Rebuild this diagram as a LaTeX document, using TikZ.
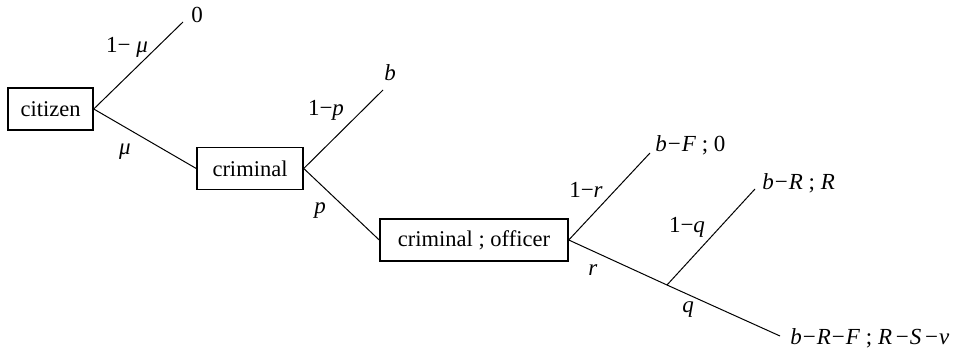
\documentclass[tikz,border=0pt]{standalone}
\usepackage{fontspec}
\setmainfont{Liberation Serif}
\usetikzlibrary{positioning}

\begin{document}
\begin{tikzpicture}[
  x=0.5pt, y=-0.5pt,
  box/.style={draw, line width=0.75pt, minimum height=21pt, inner xsep=0pt,
              font=\fontsize{11.25}{13}\selectfont},
  pay/.style={anchor=west, inner sep=0pt, font=\fontsize{11.5}{13}\selectfont},
  lbl/.style={inner sep=0pt, font=\fontsize{11.5}{13}\selectfont},
  br/.style={line width=0.5pt},
]
\useasboundingbox (0,0) rectangle (971,353);

% Nodos de decision
\node[box, minimum width=42.5pt] (cit) at (50.5,109) {citizen};
\node[box, minimum width=53pt] (crim) at (250,168.5) {criminal};
\node[box, minimum width=94pt] (off) at (474,240) {criminal ; officer};

% Extremos de las ramas
\coordinate (e0) at (183,22);
\coordinate (eb) at (383,90);
\coordinate (eF) at (650,153);
\coordinate (eR) at (755,189);
\coordinate (eRF) at (780,336);
\coordinate (jq) at (667,285);

% Pagos
\node[pay] (p0) at (191,15) {0};
\node[pay] (pb) at (384,73) {\textit{b}};
\node[pay] (pF) at (655,145) {\textit{b}\kern0.5pt−\kern0.5pt\textit{F} ; 0};
\node[pay] (pR) at (762,183) {\textit{b}\kern0.5pt−\kern0.5pt\textit{R} ; \textit{R}};
\node[pay] (pRF) at (790,338) {\textit{b}\kern0.5pt−\kern0.5pt\textit{R}\kern0.5pt−\kern0.5pt\textit{F} ; \textit{R}\,−\kern0.5pt\textit{S}\,−\kern0.5pt\textit{v}};

% Ramas
\draw[br] (cit.east) -- (e0);
\draw[br] (cit.east) -- (crim.west);
\draw[br] (crim.east) -- (eb);
\draw[br] (crim.east) -- (off.west);
\draw[br] (off.east) -- (eF);
\draw[br] (off.east) -- (jq) -- (eRF);
\draw[br] (jq) -- (eR);

% Probabilidades
\node[lbl] (l1mu) at (127,47) {1−\ \textit{μ}};
\node[lbl] (lmu) at (125,152) {\textit{μ}};
\node[lbl] (l1p) at (326,110) {1−\textit{p}};
\node[lbl] (lp) at (320,211) {\textit{p}};
\node[lbl] (l1r) at (586,190) {1−\textit{r}};
\node[lbl] (lr) at (593,270) {\textit{r}};
\node[lbl] (l1q) at (687,227) {1−\textit{q}};
\node[lbl] (lq) at (688,310) {\textit{q}};
\end{tikzpicture}
\end{document}
